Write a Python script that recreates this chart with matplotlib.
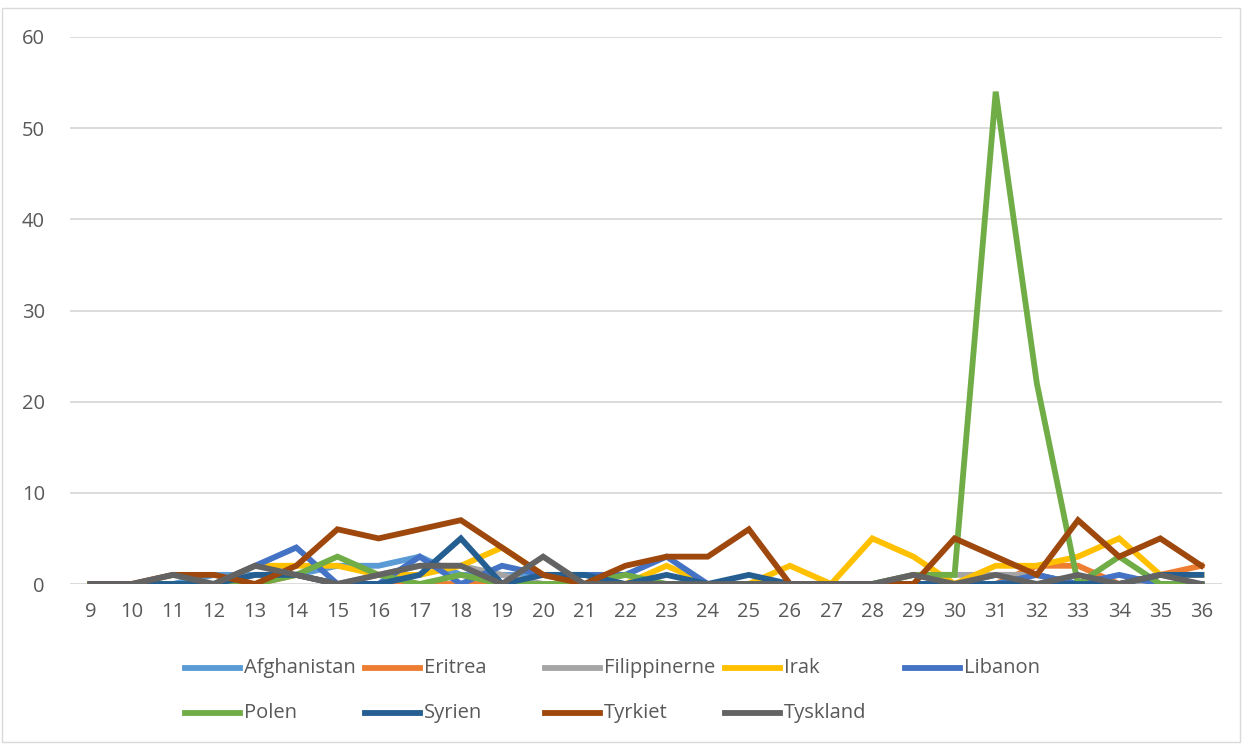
import matplotlib.pyplot as plt
from matplotlib.lines import Line2D
from matplotlib.patches import Rectangle

plt.rcParams['font.family'] = ['Open Sans', 'DejaVu Sans']

weeks = list(range(9, 37))

afghanistan = [0, 0, 0, 1, 1, 1, 2, 2, 3, 1, 1, 1, 0, 0, 0, 0, 0, 0, 0, 0, 0, 0, 1, 1, 0, 0, 0, 0]
eritrea = [0, 0, 0, 0, 0, 1, 0, 0, 0, 0, 0, 0, 0, 0, 0, 0, 0, 0, 0, 0, 0, 0, 0, 2, 2, 0, 1, 2]
filippinerne = [0, 0, 0, 0, 1, 1, 0, 1, 2, 2, 1, 0, 0, 0, 0, 0, 0, 0, 0, 0, 1, 1, 1, 1, 0, 0, 0, 0]
irak = [0, 0, 0, 0, 2, 2, 2, 1, 1, 2, 4, 1, 0, 0, 2, 0, 0, 2, 0, 5, 3, 0, 2, 2, 3, 5, 1, 1]
libanon = [0, 0, 0, 0, 2, 4, 0, 0, 3, 0, 2, 1, 1, 1, 3, 0, 0, 0, 0, 0, 0, 0, 0, 1, 0, 1, 0, 0]
polen = [0, 0, 0, 0, 0, 1, 3, 1, 0, 1, 0, 0, 0, 1, 0, 0, 0, 0, 0, 0, 1, 1, 54, 22, 0, 3, 0, 0]
syrien = [0, 0, 0, 0, 1, 1, 0, 0, 1, 5, 0, 1, 1, 0, 1, 0, 1, 0, 0, 0, 0, 0, 0, 0, 0, 0, 1, 1]
tyrkiet = [0, 0, 1, 1, 0, 2, 6, 5, 6, 7, 4, 1, 0, 2, 3, 3, 6, 0, 0, 0, 0, 5, 3, 1, 7, 3, 5, 2]
tyskland = [0, 0, 1, 0, 2, 1, 0, 1, 2, 2, 0, 3, 0, 0, 0, 0, 0, 0, 0, 0, 1, 0, 1, 0, 1, 0, 1, 0]

names = ['Afghanistan', 'Eritrea', 'Filippinerne', 'Irak', 'Libanon',
         'Polen', 'Syrien', 'Tyrkiet', 'Tyskland']
series = [afghanistan, eritrea, filippinerne, irak, libanon,
          polen, syrien, tyrkiet, tyskland]
colors = ['#5B9BD5', '#ED7D31', '#A5A5A5', '#FFC000', '#4472C4',
          '#70AD47', '#255E91', '#9E480E', '#636363']

W, H = 1242, 744
fig = plt.figure(figsize=(W / 100, H / 100), dpi=100)
ax = fig.add_axes([70 / W, 1 - 584 / H, 1152 / W, 547 / H])

x = list(range(len(weeks)))
for vals, c, n in zip(series, colors, names):
    ax.plot(x, vals, color=c, lw=4.2, label=n, solid_joinstyle='miter')

ax.set_xlim(-0.5, len(weeks) - 0.5)
ax.set_ylim(0, 60)
ax.set_yticks(range(0, 61, 10))
ax.set_xticks(x)
ax.set_xticklabels([str(w) for w in weeks])
ax.grid(axis='y', color='#d9d9d9', lw=1.3)
ax.set_axisbelow(True)
for s in ax.spines.values():
    s.set_visible(False)
ax.tick_params(length=0, labelsize=14.5, colors='#595959', pad=13)
ax.tick_params(axis='y', pad=18)

# legend drawn by hand so columns are evenly spaced like Excel
for i, (n, c) in enumerate(zip(names, colors)):
    row, col = divmod(i, 5)
    x0 = 185 + col * 180
    y0 = 668 + row * 45
    fig.add_artist(Line2D([x0 / W, (x0 + 55) / W], [1 - y0 / H, 1 - y0 / H],
                          color=c, lw=4.2, transform=fig.transFigure))
    fig.text((x0 + 59) / W, 1 - y0 / H, n, fontsize=14.5, color='#595959',
             va='center', ha='left')

fig.add_artist(Rectangle((2 / W, 2 / H), 1 - 4 / W, 1 - 10 / H, fill=False,
                         edgecolor='#d9d9d9', lw=1, transform=fig.transFigure))

fig.savefig('out.png', dpi=100)
